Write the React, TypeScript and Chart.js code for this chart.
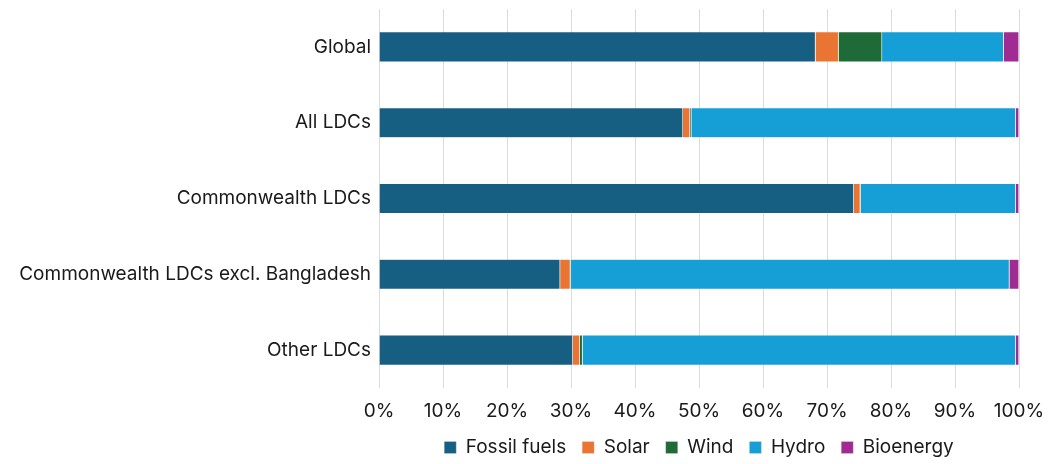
import React, { useEffect, useRef } from "react";
import { Chart, registerables } from "chart.js";

Chart.register(...registerables);

const categories = [
  "Global",
  "All LDCs",
  "Commonwealth LDCs",
  "Commonwealth LDCs excl. Bangladesh",
  "Other LDCs",
];
const fossil = [68.2, 47.5, 74.2, 28.3, 30.3];
const solar = [3.6, 1.1, 1.0, 1.6, 1.1];
const wind = [6.8, 0.2, 0.1, 0.1, 0.4];
const hydro = [19.0, 50.7, 24.2, 68.5, 67.7];
const bio = [2.4, 0.5, 0.5, 1.5, 0.5];
const seriesNames = ["Fossil fuels", "Solar", "Wind", "Hydro", "Bioenergy"];
const seriesColors = ["#175f82", "#ea7432", "#1e6b38", "#169fd6", "#a02b93"];

export default function App() {
  const ref = useRef<HTMLCanvasElement | null>(null);
  useEffect(() => {
    document.body.style.margin = "0";
    if (!ref.current) return;
    const all = [fossil, solar, wind, hydro, bio];
    const font = { family: "Inter, 'Open Sans', sans-serif", size: 19 };
    const chart = new Chart(ref.current, {
      type: "bar",
      data: {
        labels: categories,
        datasets: all.map((d, i) => ({
          label: seriesNames[i],
          data: d,
          backgroundColor: seriesColors[i],
          borderColor: "rgba(255,255,255,0.35)",
          borderWidth: 0.6,
          barPercentage: 0.4,
          categoryPercentage: 1,
        })),
      },
      options: {
        indexAxis: "y",
        animation: false,
        responsive: false,
        maintainAspectRatio: false,
        layout: { padding: { top: 9, right: 35, left: 0, bottom: -3 } },
        plugins: {
          tooltip: { enabled: false },
          legend: {
            position: "bottom",
            fullSize: false,
            labels: {
              font,
              color: "#1a1a1a",
              boxWidth: 12,
              boxHeight: 12,
              padding: 16,
            },
          },
        },
        scales: {
          x: {
            stacked: true,
            min: 0,
            max: 100,
            afterFit: (s: any) => {
              s.height = 34;
              s.paddingLeft = 0;
              s.paddingRight = 0;
            },
            ticks: {
              stepSize: 10,
              font,
              color: "#1a1a1a",
              padding: 12,
              callback: (v: any) => v + "%",
            },
            grid: { color: "#dcdcdc", drawTicks: false, lineWidth: 1 },
            border: { display: false },
          },
          y: {
            stacked: true,
            afterFit: (s: any) => {
              s.width = 379;
              s.paddingTop = 0;
              s.paddingBottom = 0;
            },
            ticks: { font, color: "#1a1a1a", padding: 8 },
            grid: { display: false, drawTicks: false },
            border: { display: false },
          },
        },
      },
    });
    return () => chart.destroy();
  }, []);
  return (
    <div style={{ position: "absolute", left: 0, top: 0, width: 1054, height: 464 }}>
      <canvas ref={ref} width={1054} height={464} style={{ width: 1054, height: 464 }} />
    </div>
  );
}
